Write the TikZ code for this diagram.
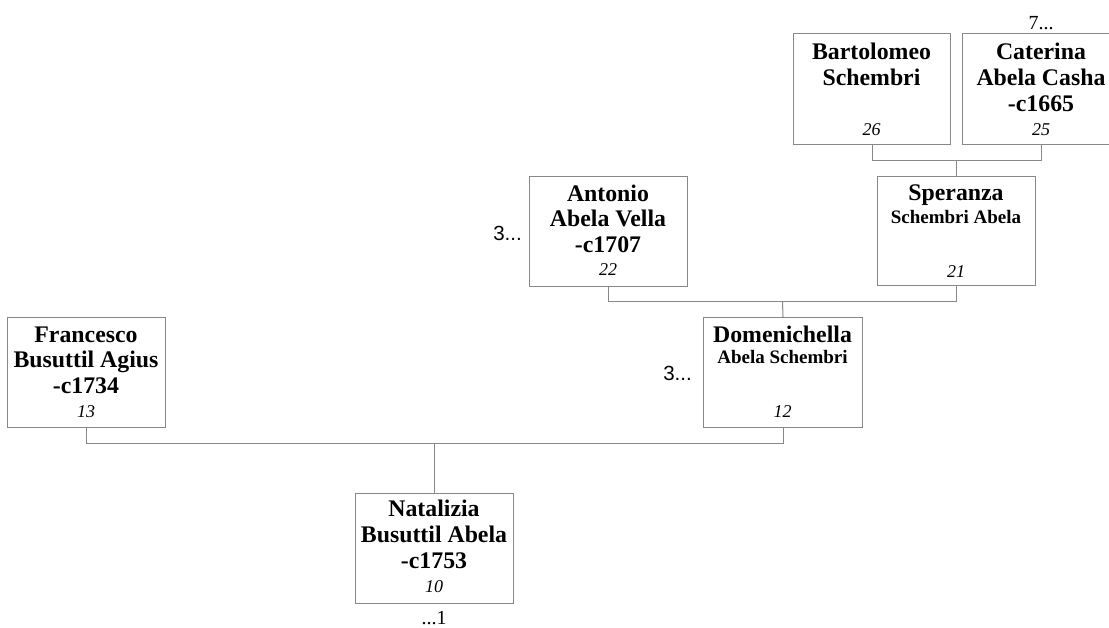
\documentclass[tikz,border=0pt]{standalone}
\usepackage{fontspec}
\setmainfont{Liberation Serif}
\newfontfamily\sansf{Liberation Sans}
\definecolor{lc}{RGB}{136,136,136}
\begin{document}
\begin{tikzpicture}[x=1pt,y=-1pt,
  box/.style={draw=lc, line width=1pt, minimum width=158pt, minimum height=110pt, inner sep=0pt, anchor=north west},
  nm/.style={font=\bfseries\fontsize{23.8}{25.7}\selectfont, align=center, anchor=base, inner sep=0pt},
  sub/.style={font=\bfseries\fontsize{19}{22}\selectfont, anchor=base, inner sep=0pt},
  num/.style={font=\itshape\fontsize{18}{20}\selectfont, anchor=base, inner sep=0pt},
  ell/.style={font=\fontsize{20}{24}\selectfont, anchor=base, inner sep=0pt},
  ells/.style={font=\sansf\fontsize{20.5}{24}\selectfont, anchor=base east, inner sep=0pt},
  con/.style={draw=lc, line width=1pt}]
\useasboundingbox (0,0) rectangle (1109,627);

% boxes
\node[box, minimum width=157pt, minimum height=111pt] (bart) at (793,33) {};
\node[box, minimum height=111pt] (cat) at (962,33) {};
\node[box, minimum height=109pt] (sper) at (877,176) {};
\node[box] (anto) at (529,176) {};
\node[box, minimum width=159pt] (dome) at (703,317) {};
\node[box] (fran) at (7,317) {};
\node[box] (nata) at (355,493) {};

% texts (base anchor = baseline of the last line)
\node[nm] (bartn) at (871.5,85.5) {Bartolomeo\\Schembri};
\node[num] (bartk) at (871.5,135) {26};
\node[nm] (catn) at (1041,111) {Caterina\\Abela Casha\\-c1665};
\node[num] (catk) at (1041,135) {25};
\node[ell] (cate) at (1041,29) {7...};
\node[nm] (spern) at (956,200) {Speranza};
\node[sub] (spers) at (956,223) {Schembri Abela};
\node[num] (sperk) at (956,277) {21};
\node[nm] (anton) at (608,252.5) {Antonio\\Abela Vella\\-c1707};
\node[num] (antok) at (608,275) {22};
\node[ells] (antoe) at (522,240) {3...};
\node[nm] (domen) at (782.5,342) {Domenichella};
\node[sub] (domes) at (782.5,363) {Abela Schembri};
\node[num] (domek) at (782.5,417) {12};
\node[ells] (domee) at (692,380) {3...};
\node[nm] (frann) at (86,393.5) {Francesco\\Busuttil Agius\\-c1734};
\node[num] (frank) at (86,417) {13};
\node[nm] (natan) at (434,568) {Natalizia\\Busuttil Abela\\-c1753};
\node[num] (natak) at (434,592) {10};
\node[ell] (natae) at (434,624) {...1};

% connectors
\coordinate (j1) at (956.5,160);
\coordinate (j2) at (782.5,301);
\coordinate (j3) at (434.5,443);
\draw[con] (bart.south) |- (j1);
\draw[con] (cat.south) |- (j1);
\draw[con] (j1) -- (sper.north);
\draw[con] (anto.south) |- (j2);
\draw[con] (sper.south) |- (j2);
\draw[con] (j2) -- (dome.north);
\draw[con] (fran.south) |- (j3);
\draw[con] (dome.south) |- (j3);
\draw[con] (j3) -- (nata.north);
\end{tikzpicture}
\end{document}
